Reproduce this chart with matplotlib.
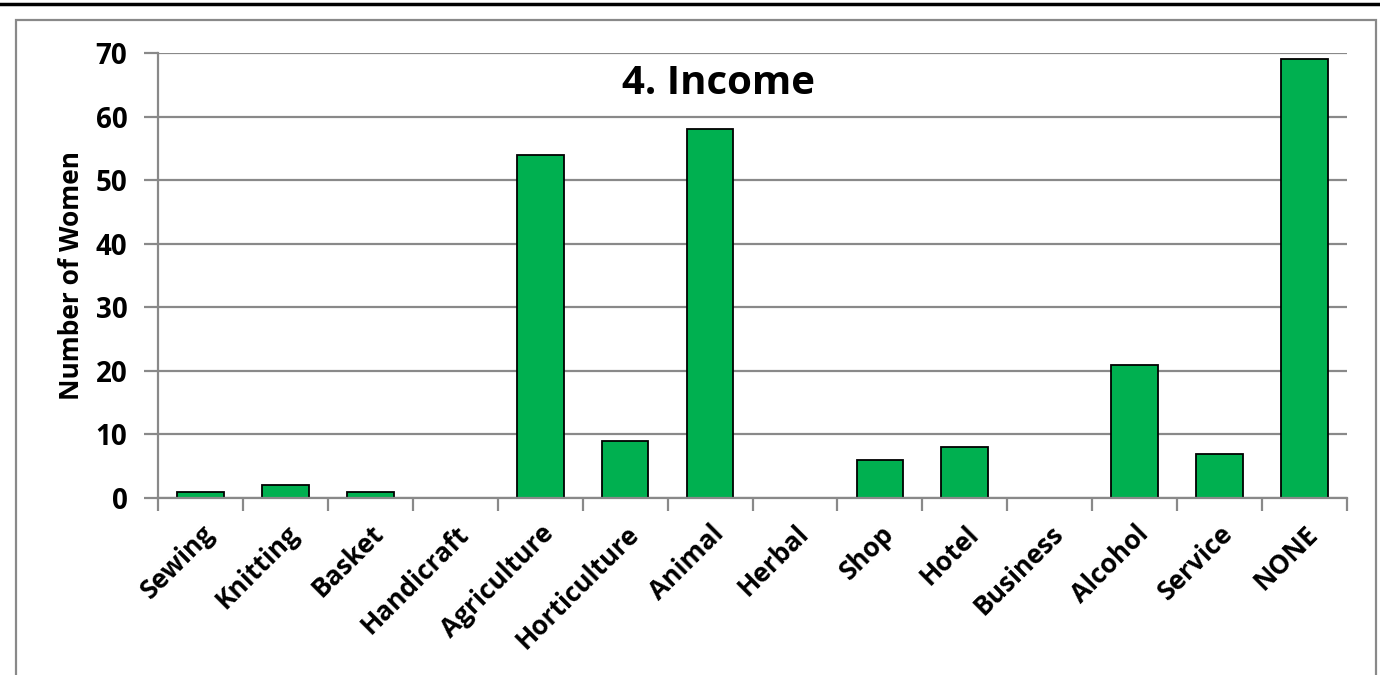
import matplotlib
matplotlib.use("Agg")
import matplotlib.pyplot as plt
from matplotlib.lines import Line2D
from matplotlib.patches import Rectangle
import numpy as np

# income sources reported by the women
categories = ["Sewing", "Knitting", "Basket", "Handicraft", "Agriculture", "Horticulture",
              "Animal", "Herbal", "Shop", "Hotel", "Business", "Alcohol", "Service", "NONE"]
counts = [1, 2, 1, 0, 54, 9, 58, 0, 6, 8, 0, 21, 7, 69]
yticks = [0, 10, 20, 30, 40, 50, 60, 70]

GREEN = "#00B050"
AXIS = "#898989"

plt.rcParams["font.family"] = ["Open Sans", "DejaVu Sans"]
plt.rcParams["font.weight"] = "bold"

fig = plt.figure(figsize=(13.8, 6.75), dpi=100)
ax = fig.add_axes([158 / 1380, 1 - 498 / 675, (1347 - 158) / 1380, (498 - 53) / 675])

x = np.arange(len(categories))
ax.bar(x, counts, width=0.55, color=GREEN, edgecolor="black", linewidth=1.3, zorder=3)

ax.set_xlim(-0.5, len(categories) - 0.5)
ax.set_ylim(0, 70)
ax.set_yticks(yticks)
ax.set_yticklabels([str(v) for v in yticks], fontsize=20, fontweight="bold")
ax.grid(axis="y", color=AXIS, linewidth=1.6, zorder=0)

# category labels at the bar centres, tick marks on the slot boundaries
ax.set_xticks(x)
ax.set_xticklabels(categories, rotation=45, ha="right", rotation_mode="anchor",
                   fontsize=19, fontweight="bold")
ax.tick_params(axis="x", length=0, pad=16)
for lbl in ax.get_xticklabels():
    lbl.set_x(lbl.get_position()[0])
ax.set_xticks(np.arange(len(categories) + 1) - 0.5, minor=True)
ax.tick_params(axis="x", which="minor", length=9, width=1.6, color=AXIS, direction="out")
ax.tick_params(axis="y", length=10, width=1.6, color=AXIS, direction="out", pad=12)

for s in ("top", "right"):
    ax.spines[s].set_visible(False)
for s in ("left", "bottom"):
    ax.spines[s].set_color(AXIS)
    ax.spines[s].set_linewidth(1.6)
    ax.spines[s].set_zorder(4)

ax.set_ylabel("Number of Women", fontsize=19, fontweight="bold", labelpad=8)
fig.text(719 / 1380, 1 - 83 / 675, "4. Income", fontsize=29, fontweight="bold",
         ha="center", va="center")

# chart frame and the rule above it
fig.add_artist(Rectangle((16 / 1380, -0.1), (1376 - 16) / 1380, 1.1 - 20 / 675,
                         transform=fig.transFigure, fill=False, edgecolor=AXIS, linewidth=1.6))
fig.add_artist(Line2D([0, 1], [1 - 4 / 675] * 2, transform=fig.transFigure,
                      color="black", linewidth=2.5))

fig.savefig("out.png", dpi=100)
